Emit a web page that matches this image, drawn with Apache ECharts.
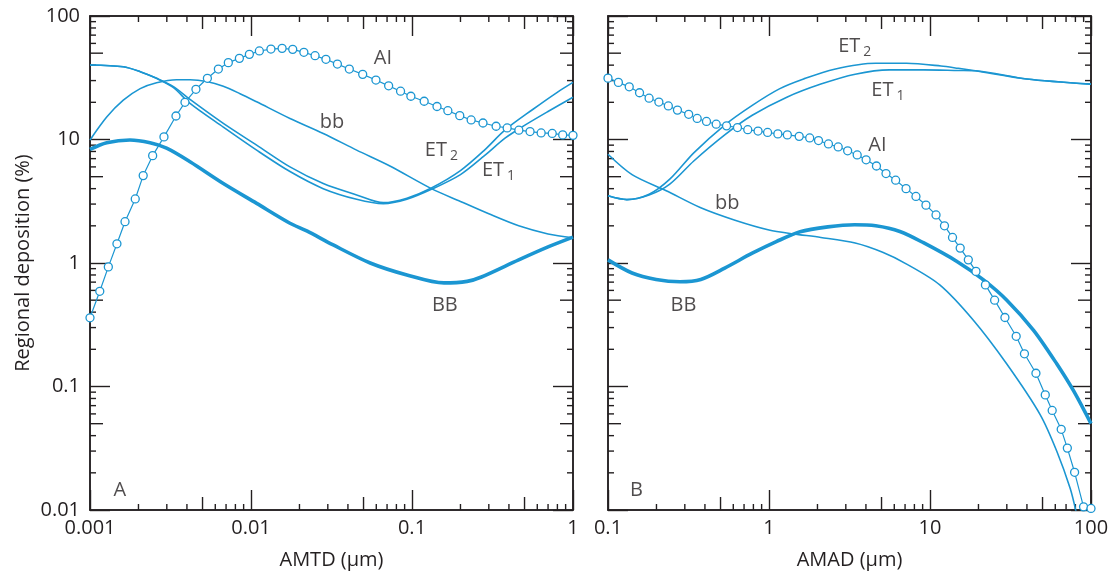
<!DOCTYPE html>
<html lang="en">
<head>
<meta charset="UTF-8">
<title>Regional deposition</title>
<script src="https://cdn.jsdelivr.net/npm/echarts@6/dist/echarts.min.js"></script>
<style>
  html, body { margin: 0; padding: 0; background: #fff; }
  #main { width: 1118px; height: 577px; }
</style>
</head>
<body>
<div id="main"></div>
<script>
// ---- panel A : AMTD (um) ----
var alA = [[0.001,0.36],[0.00115,0.59],[0.0013,0.93],[0.00147,1.43],[0.00165,2.16],[0.00191,3.3],[0.00214,5.1],
  [0.00245,7.4],[0.00288,10.5],[0.00342,15.5],[0.00389,20],[0.00455,25.5],[0.00536,31.3],[0.00627,37.2],
  [0.00723,41.9],[0.00847,45.4],[0.00977,48.9],[0.01127,52.1],[0.0133,54],[0.0156,54.7],[0.01816,53.7],
  [0.0213,50.8],[0.025,47.7],[0.0292,44.6],[0.0344,40.8],[0.0408,37.2],[0.0494,33.7],[0.0597,30.3],
  [0.0716,27.2],[0.0849,24.6],[0.0984,22.4],[0.119,20.4],[0.143,18.5],[0.167,17.1],[0.198,15.6],
  [0.233,14.4],[0.276,13.6],[0.333,12.8],[0.39,12.4],[0.461,11.9],[0.541,11.6],[0.634,11.3],
  [0.743,11.2],[0.863,10.9],[1,10.8]];
var et2A = [[0.001,40.1],[0.00161,38.8],[0.00205,35.4],[0.00259,31.3],[0.0033,26.8],[0.00418,21.1],
  [0.00673,13.5],[0.01084,9.0],[0.01746,6.0],[0.0281,4.4],[0.0453,3.56],[0.0664,3.08],[0.093,3.35],
  [0.132,4.05],[0.2,5.6],[0.282,8.2],[0.38,12.0],[0.562,17.5],[0.794,24],[1,29]];
var et1A = [[0.001,40.1],[0.00161,38.8],[0.00205,35.4],[0.00259,31.3],[0.0033,26.3],[0.00418,19.6],
  [0.00673,12.6],[0.01084,8.2],[0.01746,5.5],[0.0281,4.0],[0.0453,3.28],[0.0664,3.02],[0.093,3.28],
  [0.132,3.95],[0.2,5.2],[0.282,7.4],[0.38,10.3],[0.5,13.0],[0.708,17],[1,22]];
var bbA = [[0.001,9.9],[0.00127,15.2],[0.00161,20.8],[0.00205,25.8],[0.00259,28.8],[0.00345,30.5],
  [0.00418,30.5],[0.00531,29.5],[0.00673,27],[0.00855,23.5],[0.01084,20.2],[0.01746,14.8],[0.0281,11.2],
  [0.0453,8.2],[0.0729,6.1],[0.132,4.0],[0.2,3.15],[0.3,2.5],[0.46,2.0],[0.7,1.72],[1,1.6]];
var BBA = [[0.001,8.3],[0.00127,9.4],[0.00177,9.9],[0.00236,9.4],[0.00299,8.5],[0.00418,6.6],[0.00673,4.4],
  [0.01084,3.04],[0.01746,2.1],[0.0222,1.82],[0.0324,1.4],[0.055,1.0],[0.093,0.8],[0.158,0.69],
  [0.22,0.71],[0.27,0.77],[0.46,1.06],[0.7,1.35],[1,1.62]];

// ---- panel B : AMAD (um) ----
var alB = [[0.1,31.4],[0.116,29],[0.1355,26.7],[0.157,23.9],[0.18,21.6],[0.207,20.1],[0.237,18.7],
  [0.27,17.3],[0.317,16.0],[0.358,14.8],[0.409,14.0],[0.47,13.3],[0.545,12.9],[0.637,12.5],[0.738,12.0],
  [0.855,11.7],[0.98,11.4],[1.135,11.1],[1.3,10.9],[1.54,10.6],[1.79,10.3],[2.03,9.8],[2.34,9.2],
  [2.69,8.7],[3.08,8.1],[3.53,7.5],[4.01,6.85],[4.65,6.1],[5.33,5.3],[6.12,4.68],[7.1,4.0],[8.18,3.46],
  [9.44,2.94],[10.9,2.45],[12.3,2.0],[13.8,1.61],[15.4,1.32],[17.3,1.06],[19.3,0.855],[22.1,0.665],
  [25.2,0.5],[29.2,0.362],[34.3,0.255],[38.6,0.184],[45.5,0.128],[52,0.0855],[57.4,0.064],[65.3,0.045],
  [71.3,0.0317],[79.1,0.0202],[89.9,0.0106],[100,0.0103]];
var et2B = [[0.1,3.5],[0.131,3.26],[0.18,3.6],[0.242,4.77],[0.341,7.8],[0.531,13.1],[0.787,18.9],
  [1.16,25.7],[1.64,30.9],[2.55,37.1],[4.6,41.4],[7.16,41.4],[11.7,39.4],[15,37.7],[19.1,36],
  [39.9,30.9],[100,28.1]];
var et1B = [[0.1,3.5],[0.131,3.26],[0.18,3.55],[0.242,4.35],[0.341,6.7],[0.531,10.9],[0.787,15.7],
  [1.29,22],[2.1,28.1],[3.43,33.8],[5.6,36.6],[9.16,36.6],[15,36.2],[19.1,36],[39.9,30.9],[100,28.1]];
var bbB = [[0.1,7.6],[0.141,5.2],[0.23,3.85],[0.377,2.8],[0.615,2.22],[1,1.85],[1.42,1.72],[2.1,1.61],
  [3.43,1.45],[5.08,1.22],[7.16,0.98],[11.5,0.665],[18.6,0.344],[30,0.152],[48.4,0.059],[61.4,0.0298],
  [74.3,0.0149],[81,0.0095]];
var BBB = [[0.1,1.06],[0.141,0.83],[0.199,0.736],[0.28,0.705],[0.377,0.736],[0.531,0.91],[0.787,1.2],
  [1.11,1.49],[1.56,1.79],[2.32,1.96],[3.4,2.04],[4.6,2.0],[6.5,1.8],[9.1,1.46],[14.7,1.03],[21.5,0.73],
  [30,0.5],[44,0.285],[61.4,0.152],[78,0.092],[100,0.05]];

// curve labels (data coords); a trailing digit is drawn as a subscript
var labelsA = [['AI',0.066,45.7],['bb',0.0318,13.9],['ET2',0.149,8.2],['ET1',0.337,5.66],['BB',0.16,0.457],['A',0.00153,0.0145]];
var labelsB = [['ET2',3.34,57.2],['ET1',5.36,25.2],['AI',4.71,9.0],['bb',0.551,3.06],['BB',0.294,0.457],['B',0.15,0.0145]];

// decades used for the axes
var xDecA = [0.001, 0.01, 0.1, 1];
var xDecB = [0.1, 1, 10, 100];
var yDec = [0.01, 0.1, 1, 10, 100];

var blue = '#1b96d2';
var ink = '#231f20';
var font = 'Open Sans';

function fmt(v) { return String(parseFloat(Number(v).toPrecision(4))); }

function curve(data, gi, width, z) {
  return { type: 'line', xAxisIndex: gi, yAxisIndex: gi, data: data, smooth: 0.3, symbol: 'none',
    lineStyle: { color: blue, width: width }, z: z || 3 };
}

function alSeries(data, gi) {
  return { type: 'line', xAxisIndex: gi, yAxisIndex: gi, data: data, symbol: 'circle', symbolSize: 8,
    itemStyle: { color: '#fff', borderColor: blue, borderWidth: 1.3 },
    lineStyle: { color: blue, width: 1.2 }, z: 5 };
}

// main text and subscripts as two plain-label scatter series
function labelSeries(list, gi, sub) {
  var items = [];
  list.forEach(function (l) {
    var m = /^(.*?)(\d)$/.exec(l[0]);
    if (sub && !m) return;
    items.push({
      name: sub ? m[2] : (m ? m[1] : l[0]),
      value: [l[1], l[2]],
      label: { offset: sub ? [14, 6] : (m ? [-4, 0] : [0, 0]) }
    });
  });
  return { type: 'scatter', xAxisIndex: gi, yAxisIndex: gi, symbolSize: 1, silent: true, z: 6,
    itemStyle: { color: 'rgba(0,0,0,0)' }, data: items,
    label: { show: true, position: 'inside', formatter: '{b}',
      fontFamily: font, fontSize: sub ? 14 : 20, color: ink } };
}

var majorTick = { show: true, inside: true, length: 20, lineStyle: { color: ink, width: 1.4 } };

function xAxis(gi, dec, name, top) {
  return { type: 'log', gridIndex: gi, position: top ? 'top' : 'bottom', logBase: 10,
    min: dec[0], max: dec[dec.length - 1],
    name: top ? '' : name, nameLocation: 'middle', nameGap: 40,
    nameTextStyle: { fontFamily: font, fontSize: 20, color: ink },
    axisLine: { show: true, lineStyle: { color: ink, width: 1.5 } }, axisTick: majorTick, splitLine: { show: false },
    axisLabel: { show: !top, fontFamily: font, fontSize: 20, color: ink, margin: 8, formatter: fmt } };
}

function yAxis(gi, labels, right) {
  return { type: 'log', gridIndex: gi, position: right ? 'right' : 'left', logBase: 10,
    min: yDec[0], max: yDec[yDec.length - 1],
    name: labels ? 'Regional deposition (%)' : '', nameLocation: 'middle', nameGap: 57,
    nameTextStyle: { fontFamily: font, fontSize: 20, color: ink },
    axisLine: { show: true, lineStyle: { color: ink, width: 1.5 } }, axisTick: majorTick, splitLine: { show: false },
    axisLabel: { show: labels, fontFamily: font, fontSize: 20, color: ink, margin: 10, formatter: fmt } };
}

var chart = echarts.init(document.getElementById('main'));
chart.setOption({
  animation: false,
  grid: [
    { left: 90, top: 16, width: 483, height: 494, show: true, borderColor: ink, borderWidth: 1.5, backgroundColor: 'transparent' },
    { left: 608, top: 16, width: 483, height: 494, show: true, borderColor: ink, borderWidth: 1.5, backgroundColor: 'transparent' }
  ],
  xAxis: [xAxis(0, xDecA, 'AMTD (\u03bcm)'), xAxis(1, xDecB, 'AMAD (\u03bcm)'),
          xAxis(0, xDecA, '', true), xAxis(1, xDecB, '', true)],
  yAxis: [yAxis(0, true), yAxis(1, false), yAxis(0, false, true), yAxis(1, false, true)],
  series: [
    curve(et2A, 0, 1.6), curve(et1A, 0, 1.6), curve(bbA, 0, 1.6), curve(BBA, 0, 3.6, 4), alSeries(alA, 0),
    curve(et2B, 1, 1.6), curve(et1B, 1, 1.6), curve(bbB, 1, 1.6), curve(BBB, 1, 3.6, 4), alSeries(alB, 1),
    labelSeries(labelsA, 0, false), labelSeries(labelsA, 0, true),
    labelSeries(labelsB, 1, false), labelSeries(labelsB, 1, true)
  ]
});

// minor ticks (2..9 of every decade, the 5 a bit longer) on all four sides,
// placed through the axes' own log scales
function tickGraphics(gi, xDec) {
  var finder = { gridIndex: gi };
  var lo = chart.convertToPixel(finder, [xDec[0], yDec[0]]);
  var hi = chart.convertToPixel(finder, [xDec[xDec.length - 1], yDec[yDec.length - 1]]);
  var els = [];
  function seg(x1, y1, x2, y2) {
    els.push({ type: 'line', shape: { x1: x1, y1: y1, x2: x2, y2: y2 }, style: { stroke: ink, lineWidth: 1.4 } });
  }
  function each(dec, cb) {
    for (var i = 0; i < dec.length - 1; i++) {
      for (var m = 2; m <= 9; m++) cb(+(m * dec[i]).toPrecision(6), m === 5 ? 13 : 6);
    }
  }
  each(xDec, function (v, len) {
    var px = chart.convertToPixel(finder, [v, yDec[0]])[0];
    seg(px, lo[1], px, lo[1] - len);
    seg(px, hi[1], px, hi[1] + len);
  });
  each(yDec, function (v, len) {
    var py = chart.convertToPixel(finder, [xDec[0], v])[1];
    seg(lo[0], py, lo[0] + len, py);
    seg(hi[0], py, hi[0] - len, py);
  });
  return els;
}
try {
  chart.setOption({ graphic: tickGraphics(0, xDecA).concat(tickGraphics(1, xDecB)) });
} catch (e) {}
</script>
</body>
</html>
